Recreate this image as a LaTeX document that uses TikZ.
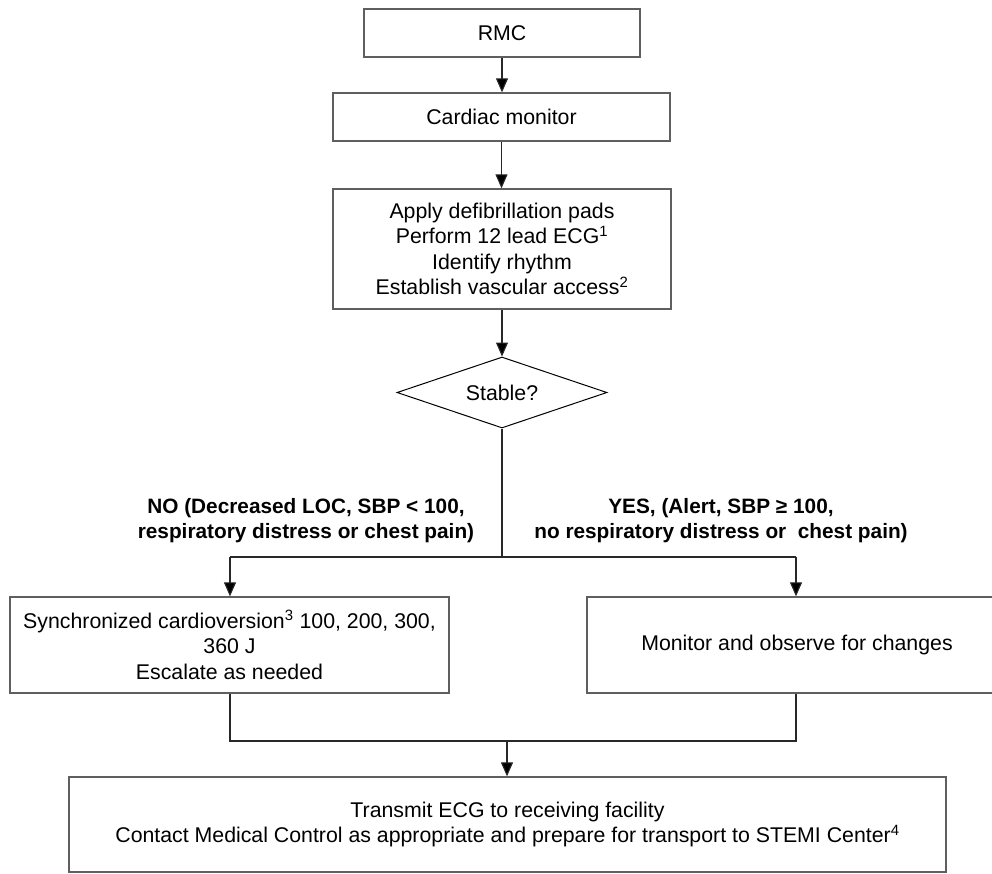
\documentclass[tikz,border=0pt]{standalone}
\usepackage{fontspec}
\setmainfont{Liberation Sans}
\usetikzlibrary{shapes.geometric,arrows.meta}
\definecolor{boxgray}{RGB}{95,95,95}
\definecolor{linegray}{RGB}{40,40,40}
\begin{document}
\begin{tikzpicture}[x=1pt,y=-1pt,
  box/.style={draw=boxgray, line width=1.3pt, rectangle, inner sep=0pt, align=center,
              font=\fontsize{21.3}{25.5}\selectfont},
  decision/.style={draw=black, line width=1pt, shape=diamond, aspect=3, inner sep=0pt,
              minimum width=210pt, minimum height=71pt, font=\fontsize{21.3}{25.5}\selectfont},
  lbl/.style={align=center, font=\bfseries\fontsize{20.8}{25}\selectfont},
  conn/.style={draw=linegray, line width=1.1pt},
  arr/.style={conn, -{Triangle[length=14pt,width=12pt,fill=black]}}]
\useasboundingbox (0,0) rectangle (992,873);
\clip (0,0) rectangle (992,873);

\node[box, minimum width=276pt, minimum height=48pt] (rmc) at (502,33) {RMC};
\node[box, minimum width=337pt, minimum height=48pt] (cm) at (501.5,117) {Cardiac monitor};
\node[box, minimum width=338pt, minimum height=120pt] (df) at (502,249)
  {Apply defibrillation pads\\Perform 12 lead ECG\textsuperscript{1}\\Identify rhythm\\Establish vascular access\textsuperscript{2}};
\node[decision] (st) at (502,392.5) {Stable?};

\node[lbl] (nol) at (306,520.5) {NO (Decreased LOC, SBP < 100,\\respiratory distress or chest pain)};
\node[lbl] (yesl) at (721,520.5) {YES, (Alert, SBP ≥ 100,\\no respiratory distress or\ \ chest pain)};

\node[box, minimum width=439pt, minimum height=96pt] (lb) at (229.5,645)
  {Synchronized cardioversion\textsuperscript{3} 100, 200, 300,\\360 J\\Escalate as needed};
\node[box, minimum width=420pt, minimum height=96pt] (rb) at (797,645)
  {Monitor and observe for changes};
\node[box, minimum width=877pt, minimum height=95pt] (bt) at (507.5,824.5)
  {Transmit ECG to receiving facility\\Contact Medical Control as appropriate and prepare for transport to STEMI Center\textsuperscript{4}};

\coordinate (jm) at (502,557);
\coordinate (jl) at (230,557);
\coordinate (jr) at (796,557);
\coordinate (kl) at (230,741);
\coordinate (kr) at (796,741);
\coordinate (km) at (507,741);

\draw[arr] (rmc.south) -- (rmc.south |- cm.north);
\draw[arr] (cm.south) -- (cm.south |- df.north);
\draw[arr] (df.south) -- (st.north);
\draw[conn] (st.south) -- (jm);
\draw[conn] (jl) -- (jr);
\draw[arr] (jl) -- (jl |- lb.north);
\draw[arr] (jr) -- (jr |- rb.north);
\draw[conn] (jl |- lb.south) -- (kl) -- (kr) -- (jr |- rb.south);
\draw[arr] (km) -- (km |- bt.north);
\end{tikzpicture}
\end{document}
